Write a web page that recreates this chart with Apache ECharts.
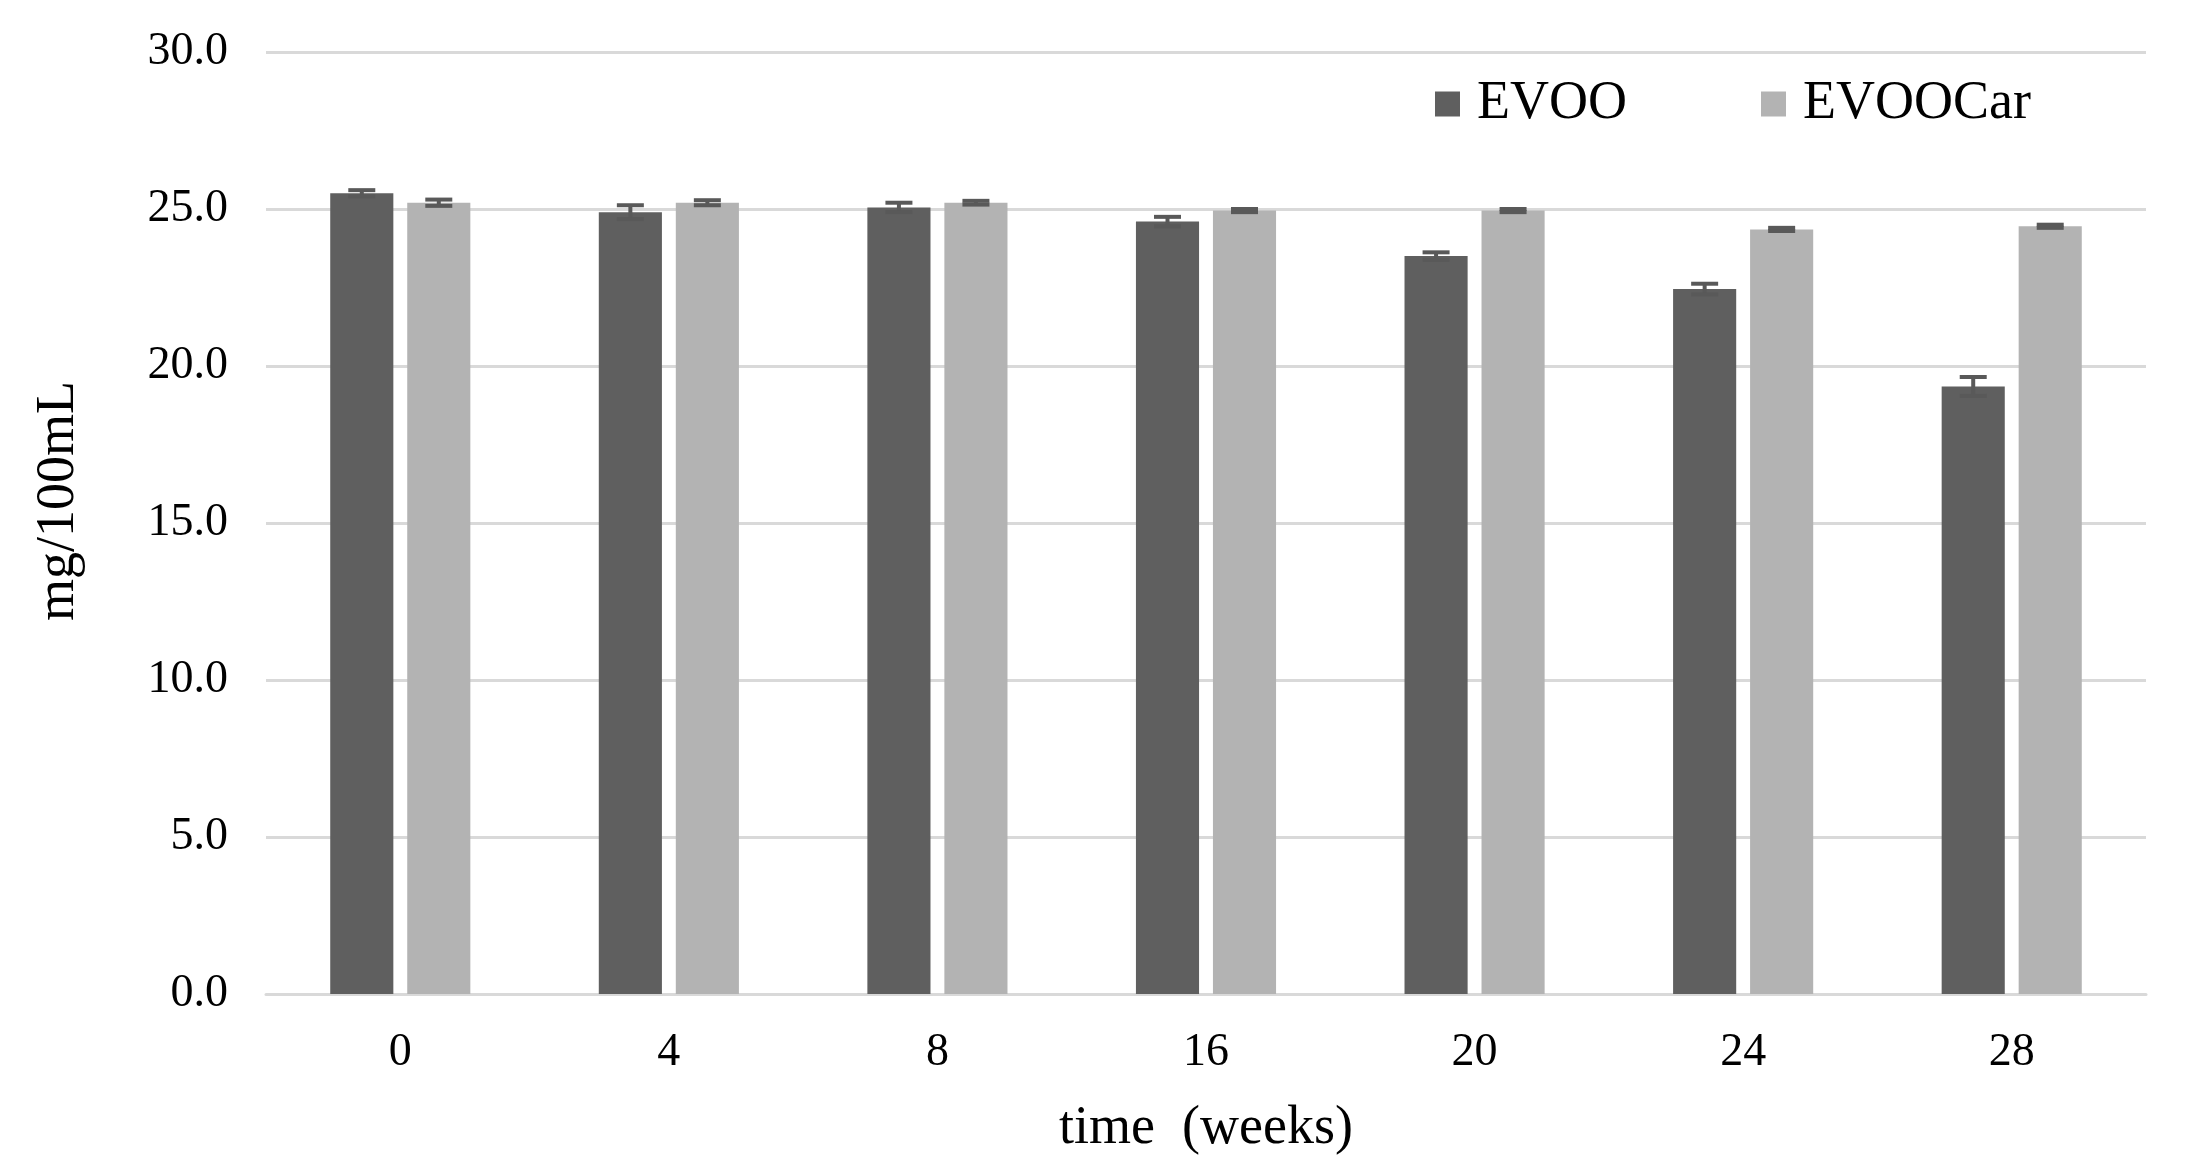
<!DOCTYPE html>
<html>
<head>
<meta charset="utf-8">
<script src="https://cdn.jsdelivr.net/npm/echarts@6/dist/echarts.min.js"></script>
<style>
html,body{margin:0;padding:0;background:#fff;}
#chart{width:2192px;height:1168px;}
</style>
</head>
<body>
<div id="chart"></div>
<script>
const categories = ['0', '4', '8', '16', '20', '24', '28'];
const evoo = [25.5, 24.9, 25.05, 24.6, 23.5, 22.45, 19.35];
const evooErr = [0.1, 0.22, 0.15, 0.15, 0.12, 0.17, 0.3];
const evooCar = [25.2, 25.2, 25.2, 24.95, 24.95, 24.35, 24.45];
const evooCarErr = [0.1, 0.08, 0.06, 0.05, 0.05, 0.05, 0.05];
const yTicks = { min: 0, max: 30, interval: 5 };

const FONT = '"Liberation Serif", "Times New Roman", serif';
const BAR_W = 0.235, BAR_GAP = 0.22;

function errData(vals, errs) {
  return vals.map((v, i) => [i, v - errs[i], v + errs[i]]);
}

function errRenderer(side) {
  return function (params, api) {
    const idx = api.value(0);
    const lo = api.coord([idx, api.value(1)]);
    const hi = api.coord([idx, api.value(2)]);
    const band = api.size([1, 0])[0];
    const w = band * BAR_W;
    const off = side * (w + w * BAR_GAP) / 2;
    const x = lo[0] + off;
    const cap = 13.5;
    const st = { stroke: '#595959', lineWidth: 4 };
    return {
      type: 'group',
      children: [
        { type: 'line', shape: { x1: x, y1: lo[1], x2: x, y2: hi[1] }, style: st },
        { type: 'line', shape: { x1: x - cap, y1: lo[1], x2: x + cap, y2: lo[1] }, style: st },
        { type: 'line', shape: { x1: x - cap, y1: hi[1], x2: x + cap, y2: hi[1] }, style: st }
      ]
    };
  };
}

const chart = echarts.init(document.getElementById('chart'));
chart.setOption({
  animation: false,
  backgroundColor: '#ffffff',
  textStyle: { fontFamily: FONT, color: '#000' },
  grid: { left: 266, right: 46, top: 52, bottom: 174, containLabel: false, outerBoundsMode: 'none' },
  legend: {
    left: 1430, top: 72,
    itemWidth: 25, itemHeight: 25, itemGap: 134,
    icon: 'rect',
    data: ['EVOO', 'EVOOCar'],
    textStyle: { fontFamily: FONT, fontSize: 54, color: '#000', padding: [0, 0, 0, 12] }
  },
  xAxis: {
    type: 'category',
    data: categories,
    name: 'time  (weeks)',
    nameLocation: 'middle',
    nameGap: 108,
    nameTextStyle: { fontFamily: FONT, fontSize: 54, color: '#000' },
    axisLine: { show: true, lineStyle: { color: '#d9d9d9', width: 3 } },
    axisTick: { show: false },
    axisLabel: { fontFamily: FONT, fontSize: 46, color: '#000', margin: 36 }
  },
  yAxis: {
    type: 'value',
    min: yTicks.min, max: yTicks.max, interval: yTicks.interval,
    name: 'mg/100mL',
    nameLocation: 'middle',
    nameGap: 180,
    nameTextStyle: { fontFamily: FONT, fontSize: 54, color: '#000', padding: [0, 0, 0, 44] },
    axisLine: { show: false },
    axisTick: { show: false },
    axisLabel: { fontFamily: FONT, fontSize: 46, color: '#000', margin: 38, formatter: v => v.toFixed(1) },
    splitLine: { show: true, lineStyle: { color: '#d9d9d9', width: 3 } }
  },
  series: [
    {
      name: 'EVOO', type: 'bar', data: evoo,
      barWidth: (BAR_W * 100) + '%', barGap: (BAR_GAP * 100) + '%',
      itemStyle: { color: '#5f5f5f' }
    },
    {
      name: 'EVOOCar', type: 'bar', data: evooCar,
      barWidth: (BAR_W * 100) + '%', barGap: (BAR_GAP * 100) + '%',
      itemStyle: { color: '#b3b3b3' }
    },
    {
      name: 'EVOO err', type: 'custom', data: errData(evoo, evooErr),
      renderItem: errRenderer(-1), encode: { x: 0, y: [1, 2] }, z: 5, silent: true
    },
    {
      name: 'EVOOCar err', type: 'custom', data: errData(evooCar, evooCarErr),
      renderItem: errRenderer(1), encode: { x: 0, y: [1, 2] }, z: 5, silent: true
    }
  ]
});
</script>
</body>
</html>
